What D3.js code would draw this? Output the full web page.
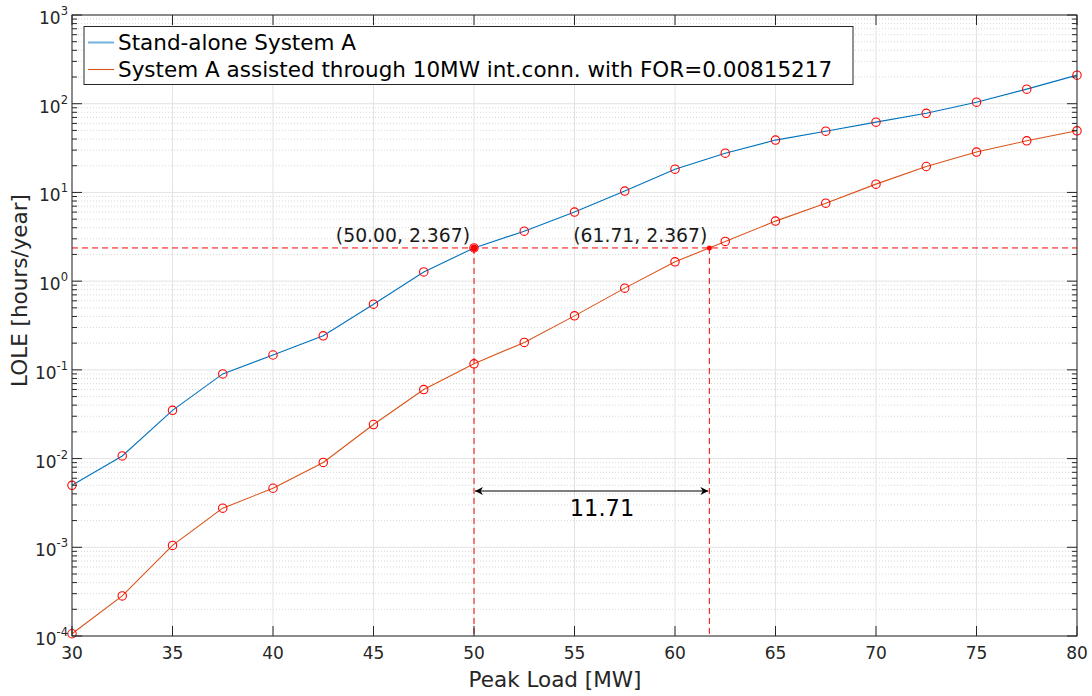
<!DOCTYPE html>
<html><head><meta charset="utf-8">
<script src="https://cdn.jsdelivr.net/npm/d3@7"></script>
<style>
body{margin:0;background:#fff;}
text{font-family:"DejaVu Sans",sans-serif;}
</style></head>
<body>
<svg id="c" width="1092" height="696"></svg>
<script>
const peakLoad = [30,32.5,35,37.5,40,42.5,45,47.5,50,52.5,55,57.5,60,62.5,65,67.5,70,72.5,75,77.5,80];
const loleStandalone = [0.005,0.0107,0.035,0.090,0.147,0.242,0.55,1.27,2.367,3.66,6.0,10.35,18.3,27.7,38.9,49,62,78,104,146,210];
const loleAssisted = [0.000106,0.000283,0.00105,0.00276,0.00463,0.00904,0.0242,0.060,0.117,0.204,0.406,0.834,1.65,2.80,4.75,7.57,12.4,19.6,28.5,38.2,49.5];
const seriesNames = ["Stand-alone System A","System A assisted through 10MW int.conn. with FOR=0.00815217"];
const xTicks = [30,35,40,45,50,55,60,65,70,75,80];
const yDecades = [-4,-3,-2,-1,0,1,2,3];
const refLole = 2.367;
const refX1 = 50.00, refX2 = 61.71;
const diffLabel = "11.71";

const svg = d3.select("#c");
const L=72, R=1077, T=15, B=636;
const x = d3.scaleLinear().domain([30,80]).range([L,R]);
const y = d3.scaleLog().domain([1e-4,1e3]).range([B,T]);
const blue="#0072BD", orange="#D95319", red="#ff0000", axc="#262626";

// minor grid
const minors=[];
yDecades.slice(0,-1).forEach(e=>{for(let k=2;k<=9;k++)minors.push(k*Math.pow(10,e));});
svg.append("g").selectAll("line").data(minors).join("line")
  .attr("x1",L).attr("x2",R).attr("y1",d=>y(d)).attr("y2",d=>y(d))
  .attr("stroke","#d8d8d8").attr("stroke-width",1).attr("stroke-dasharray","1,2");
// major grid
svg.append("g").selectAll("line").data(yDecades.map(e=>Math.pow(10,e))).join("line")
  .attr("x1",L).attr("x2",R).attr("y1",d=>y(d)).attr("y2",d=>y(d))
  .attr("stroke","#e3e3e3").attr("stroke-width",1);
svg.append("g").selectAll("line").data(xTicks).join("line")
  .attr("x1",d=>x(d)).attr("x2",d=>x(d)).attr("y1",T).attr("y2",B)
  .attr("stroke","#e3e3e3").attr("stroke-width",1);

// reference dashed lines
const g = svg.append("g");
g.append("line").attr("x1",x(30)).attr("x2",x(80)).attr("y1",y(refLole)).attr("y2",y(refLole))
  .attr("stroke",red).attr("stroke-width",1).attr("stroke-dasharray","6,4");
[refX1,refX2].forEach(v=>{
  g.append("line").attr("x1",x(v)).attr("x2",x(v)).attr("y1",y(refLole)).attr("y2",B)
   .attr("stroke",red).attr("stroke-width",1).attr("stroke-dasharray","6,4");
});

// series
const line = d3.line().x((d,i)=>x(peakLoad[i])).y(d=>y(d));
[[loleStandalone,blue],[loleAssisted,orange]].forEach(([data,col])=>{
  svg.append("path").datum(data).attr("d",line).attr("fill","none").attr("stroke",col).attr("stroke-width",1.1);
});
[loleStandalone,loleAssisted].forEach(data=>{
  svg.append("g").selectAll("circle").data(data).join("circle")
    .attr("cx",(d,i)=>x(peakLoad[i])).attr("cy",d=>y(d)).attr("r",4.2)
    .attr("fill","none").attr("stroke",red).attr("stroke-width",1.1);
});

// ref points
svg.append("circle").attr("cx",x(refX1)).attr("cy",y(refLole)).attr("r",3.5).attr("fill",red);
svg.append("circle").attr("cx",x(refX2)).attr("cy",y(refLole)).attr("r",2.5).attr("fill",red);
svg.append("text").attr("x",x(refX1)-4).attr("y",y(refLole)-6).attr("text-anchor","end")
  .attr("font-size",18.8).attr("fill","#1a1a1a").text(`(${refX1.toFixed(2)}, ${refLole.toFixed(3)})`);
svg.append("text").attr("x",x(refX2)-2).attr("y",y(refLole)-6).attr("text-anchor","end")
  .attr("font-size",18.8).attr("fill","#1a1a1a").text(`(${refX2.toFixed(2)}, ${refLole.toFixed(3)})`);

// double arrow
const ay = 491;
svg.append("defs").html('<marker id="ah" viewBox="0 0 10 10" refX="10" refY="5" markerWidth="13" markerHeight="8" markerUnits="userSpaceOnUse" orient="auto-start-reverse"><path d="M0,0 L10,5 L0,10 L3,5 z" fill="#000"/></marker>');
svg.append("line").attr("x1",x(refX1)+1).attr("x2",x(refX2)-1).attr("y1",ay).attr("y2",ay)
  .attr("stroke","#000").attr("stroke-width",1.2)
  .attr("marker-start","url(#ah)").attr("marker-end","url(#ah)");
svg.append("text").attr("x",602).attr("y",516).attr("text-anchor","middle")
  .attr("font-size",22.5).attr("fill","#000").text(diffLabel);

// axes box
svg.append("rect").attr("x",L).attr("y",T).attr("width",R-L).attr("height",B-T)
  .attr("fill","none").attr("stroke",axc).attr("stroke-width",1);
// ticks
const tk = svg.append("g").attr("stroke",axc).attr("stroke-width",1);
xTicks.forEach(v=>{
  tk.append("line").attr("x1",x(v)).attr("x2",x(v)).attr("y1",B).attr("y2",B-10);
  tk.append("line").attr("x1",x(v)).attr("x2",x(v)).attr("y1",T).attr("y2",T+10);
});
yDecades.forEach(e=>{
  const yy=y(Math.pow(10,e));
  tk.append("line").attr("x1",L).attr("x2",L+10).attr("y1",yy).attr("y2",yy);
  tk.append("line").attr("x1",R).attr("x2",R-10).attr("y1",yy).attr("y2",yy);
});
minors.forEach(v=>{
  const yy=y(v);
  tk.append("line").attr("x1",L).attr("x2",L+5).attr("y1",yy).attr("y2",yy);
  tk.append("line").attr("x1",R).attr("x2",R-5).attr("y1",yy).attr("y2",yy);
});
// tick labels
svg.append("g").selectAll("text").data(xTicks).join("text")
  .attr("x",d=>x(d)).attr("y",B+23).attr("text-anchor","middle")
  .attr("font-size",17).attr("fill",axc).text(d=>d);
yDecades.forEach(e=>{
  const t=svg.append("text").attr("x",L-4).attr("y",y(Math.pow(10,e))+9).attr("text-anchor","end")
    .attr("font-size",17).attr("fill",axc);
  t.append("tspan").text("10");
  t.append("tspan").attr("dy",-9).attr("font-size",11.5).text(e);
});
// axis titles
svg.append("text").attr("x",555).attr("y",687).attr("text-anchor","middle")
  .attr("font-size",21.5).attr("fill",axc).text("Peak Load [MW]");
svg.append("text").attr("transform",`translate(27,${(T+B)/2 - 35}) rotate(-90)`).attr("text-anchor","middle")
  .attr("font-size",21.5).attr("fill",axc).text("LOLE [hours/year]");

// legend
const lg = svg.append("g");
lg.append("rect").attr("x",84).attr("y",26.5).attr("width",769).attr("height",58)
  .attr("fill","#fff").attr("stroke",axc).attr("stroke-width",1);
[[blue,2,0.55],[orange,1.1,1]].forEach(([c,w,o],i)=>{
  const yy=42.5+i*27;
  lg.append("line").attr("x1",88).attr("x2",114).attr("y1",yy).attr("y2",yy)
    .attr("stroke",c).attr("stroke-width",w).attr("stroke-opacity",o);
  lg.append("text").attr("x",118).attr("y",yy+7.5).attr("font-size",21.5).attr("fill","#000").text(seriesNames[i]);
});
</script>
</body></html>
